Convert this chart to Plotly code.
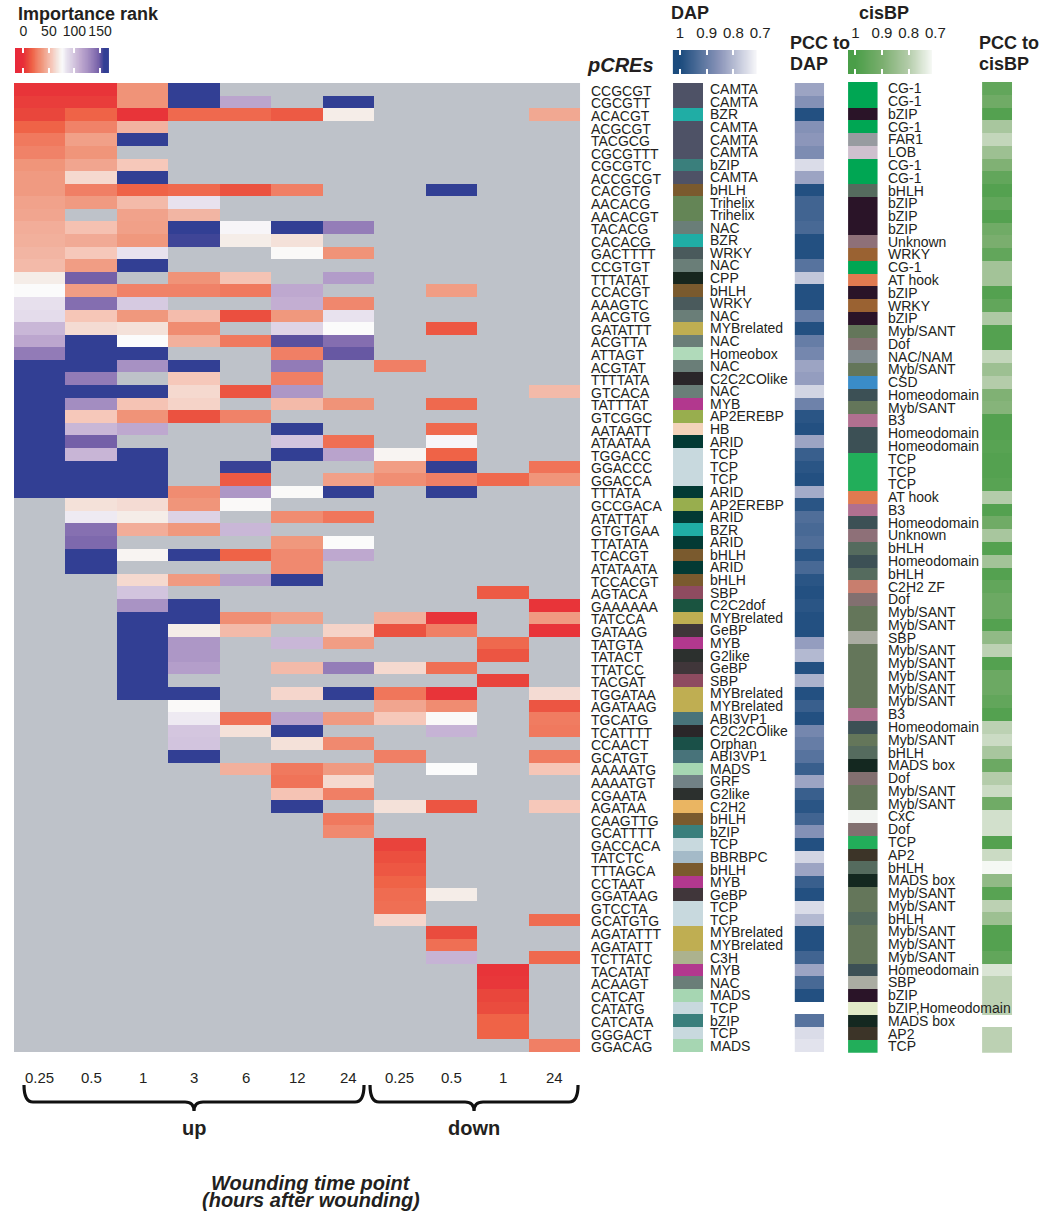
import numpy as np
import plotly.graph_objects as go

W, H = 1048, 1216
FONT = "Liberation Sans, Arial, Helvetica, sans-serif"
INK = "#231F20"
XK = 1040 / 1032  # the photographed page comes out ~0.8 % narrower; compensate


def px(x):
    return x * XK / W


def py(y):
    return 1 - y / H


# ---------------- data ----------------
time_points = ["0.25", "0.5", "1", "3", "6", "12", "24", "0.25", "0.5", "1", "24"]
direction = ["up"] * 7 + ["down"] * 4

pcres = ["CCGCGT", "CGCGTT", "ACACGT", "ACGCGT", "TACGCG", "CGCGTTT", "CGCGTC", "ACCGCGT",
         "CACGTG", "AACACG", "AACACGT", "TACACG", "CACACG", "GACTTTT", "CCGTGT", "TTTATAT",
         "CCACGT", "AAAGTC", "AACGTG", "GATATTT", "ACGTTA", "ATTAGT", "ACGTAT", "TTTTATA",
         "GTCACA", "TATTTAT", "GTCGGC", "AATAATT", "ATAATAA", "TGGACC", "GGACCC", "GGACCA",
         "TTTATA", "GCCGACA", "ATATTAT", "GTGTGAA", "TTATATA", "TCACGT", "ATATAATA", "TCCACGT",
         "AGTACA", "GAAAAAA", "TATCCA", "GATAAG", "TATGTA", "TATACT", "TTATCC", "TACGAT",
         "TGGATAA", "AGATAAG", "TGCATG", "TCATTTT", "CCAACT", "GCATGT", "AAAAATG", "AAAATGT",
         "CGAATA", "AGATAA", "CAAGTTG", "GCATTTT", "GACCACA", "TATCTC", "TTTAGCA", "CCTAAT",
         "GGATAAG", "GTCCTA", "GCATGTG", "AGATATTT", "AGATATT", "TCTTATC", "TACATAT", "ACAAGT",
         "CATCAT", "CATATG", "CATCATA", "GGGACT", "GGACAG"]

N = None
D = 165  # ranks beyond the top ones (dark blue)
rank = [
    [2, 2, 35, D, N, N, N, N, N, N, N],
    [5, 5, 35, D, 115, N, D, N, N, N, N],
    [8, 18, 2, 20, 20, 15, 70, N, N, N, 43],
    [18, 28, 47, N, N, N, N, N, N, N, N],
    [25, 40, D, N, N, N, N, N, N, N, N],
    [28, 36, N, N, N, N, N, N, N, N, N],
    [36, 42, 56, N, N, N, N, N, N, N, N],
    [38, 62, D, N, N, N, N, N, N, N, N],
    [38, 27, 18, 20, 12, 27, N, N, D, N, N],
    [41, 38, 50, 85, N, N, N, N, N, N, N],
    [42, N, 41, 48, N, N, N, N, N, N, N],
    [45, 53, 40, D, 78, D, 135, N, N, N, N],
    [46, 44, 37, 156, 70, 65, N, N, N, N, N],
    [48, 56, 85, N, N, 75, 35, N, N, N, N],
    [50, 39, D, N, N, N, N, N, N, N, N],
    [70, 148, N, 35, 54, N, 120, N, N, N, N],
    [76, 39, 28, 28, 25, 113, N, N, 39, N, N],
    [86, 142, 97, N, N, 110, 30, N, N, N, N],
    [88, 55, 37, 51, 11, 37, 85, N, N, N, N],
    [106, 63, 65, 32, N, 92, 76, N, 14, N, N],
    [114, D, 76, 46, 25, 152, 142, N, N, N, N],
    [136, D, D, N, N, 27, 150, N, N, N, N],
    [D, D, 126, D, N, 136, N, 27, N, N, N],
    [D, 136, N, 56, N, 27, N, N, N, N, N],
    [D, D, D, 62, 13, 123, N, N, N, N, 50],
    [D, 128, 54, 60, N, 50, 35, N, 20, N, N],
    [D, 56, 35, 12, 28, N, N, N, N, N, N],
    [D, 106, 113, N, N, D, N, N, 20, N, N],
    [D, 148, N, N, N, 100, 22, N, 78, N, N],
    [D, 107, D, N, N, D, 116, 73, 18, N, N],
    [D, D, D, N, 157, N, N, 39, D, N, 23],
    [D, D, D, N, 15, N, 40, 33, 27, 20, 36],
    [D, D, D, 32, 123, 75, D, N, D, N, N],
    [N, 65, 63, 36, 75, N, N, N, N, N, N],
    [N, 82, 70, 93, N, 32, 24, N, N, N, N],
    [N, 141, 45, 37, 106, N, N, N, N, N, N],
    [N, 144, N, N, N, 37, 76, N, N, N, N],
    [N, D, 73, D, 18, 31, 113, N, N, N, N],
    [N, D, N, N, N, 31, N, N, N, N, N],
    [N, N, 62, 38, 118, D, N, N, N, N, N],
    [N, N, 100, N, N, N, N, N, N, 15, N],
    [N, N, 125, D, N, N, N, N, N, N, 2],
    [N, N, D, D, 33, 40, N, 46, 2, N, 38],
    [N, N, D, 70, 50, N, 60, 12, 27, N, 2],
    [N, N, D, 123, N, 106, 39, N, N, 20, N],
    [N, N, D, 123, N, N, N, N, N, 13, N],
    [N, N, D, 119, N, 50, 135, 62, 22, N, N],
    [N, N, D, N, N, N, N, N, N, 7, N],
    [N, N, D, D, N, 61, D, 24, 2, N, 63],
    [N, N, N, 75, N, N, N, 42, 32, N, 13],
    [N, N, N, 82, 22, 116, 38, 56, 75, N, 26],
    [N, N, N, 99, 65, D, N, N, 108, N, 25],
    [N, N, N, 100, N, 65, 31, N, N, N, N],
    [N, N, N, D, N, N, N, 27, N, N, 26],
    [N, N, N, N, 46, 25, 38, N, 76, N, 55],
    [N, N, N, N, N, 23, 62, N, N, N, N],
    [N, N, N, N, N, 54, 27, N, N, N, N],
    [N, N, N, N, N, D, N, 65, 13, N, 56],
    [N, N, N, N, N, N, 25, N, N, N, N],
    [N, N, N, N, N, N, 31, N, N, N, N],
    [N, N, N, N, N, N, N, 7, N, N, N],
    [N, N, N, N, N, N, N, 11, N, N, N],
    [N, N, N, N, N, N, N, 14, N, N, N],
    [N, N, N, N, N, N, N, 18, N, N, N],
    [N, N, N, N, N, N, N, 21, 70, N, N],
    [N, N, N, N, N, N, N, 22, N, N, N],
    [N, N, N, N, N, N, N, 61, N, N, 21],
    [N, N, N, N, N, N, N, N, 10, N, N],
    [N, N, N, N, N, N, N, N, 22, N, N],
    [N, N, N, N, N, N, N, N, 108, N, 20],
    [N, N, N, N, N, N, N, N, N, 2, N],
    [N, N, N, N, N, N, N, N, N, 3, N],
    [N, N, N, N, N, N, N, N, N, 8, N],
    [N, N, N, N, N, N, N, N, N, 10, N],
    [N, N, N, N, N, N, N, N, N, 18, N],
    [N, N, N, N, N, N, N, N, N, 18, N],
    [N, N, N, N, N, N, N, N, N, N, 27],
]

dap_family = ["CAMTA", "CAMTA", "BZR", "CAMTA", "CAMTA", "CAMTA", "bZIP", "CAMTA", "bHLH",
              "Trihelix", "Trihelix", "NAC", "BZR", "WRKY", "NAC", "CPP", "bHLH", "WRKY", "NAC",
              "MYBrelated", "NAC", "Homeobox", "NAC", "C2C2COlike", "NAC", "MYB", "AP2EREBP", "HB",
              "ARID", "TCP", "TCP", "TCP", "ARID", "AP2EREBP", "ARID", "BZR", "ARID", "bHLH", "ARID",
              "bHLH", "SBP", "C2C2dof", "MYBrelated", "GeBP", "MYB", "G2like", "GeBP", "SBP",
              "MYBrelated", "MYBrelated", "ABI3VP1", "C2C2COlike", "Orphan", "ABI3VP1", "MADS",
              "GRF", "G2like", "C2H2", "bHLH", "bZIP", "TCP", "BBRBPC", "bHLH", "MYB", "GeBP",
              "TCP", "TCP", "MYBrelated", "MYBrelated", "C3H", "MYB", "NAC", "MADS", "TCP", "bZIP",
              "TCP", "MADS"]

dap_pcc = [0.83, 0.86, 0.99, 0.86, 0.85, 0.87, 0.75, 0.83, 0.99, 0.95, 0.95, 0.94, 0.99, 0.99,
           0.92, 0.78, 0.99, 0.99, 0.90, 0.99, 0.90, 0.88, 0.83, 0.84, 0.76, 0.89, 0.98, 0.99,
           0.83, 0.96, 0.98, 0.99, 0.82, 0.98, 0.93, 0.94, 0.93, 0.98, 0.94, 0.98, 0.99, 0.98,
           0.99, 0.99, 0.84, 0.80, 0.99, 0.81, 0.99, 0.96, 0.99, 0.88, 0.90, 0.92, 0.96, 0.83,
           0.96, 0.98, 0.95, 0.86, 0.99, 0.76, 0.83, 0.96, 0.99, 0.75, 0.80, 0.99, 0.99, 0.95,
           0.83, 0.94, 0.99, None, 0.92, 0.75, 0.74]

cisbp_family = ["CG-1", "CG-1", "bZIP", "CG-1", "FAR1", "LOB", "CG-1", "CG-1", "bHLH", "bZIP",
                "bZIP", "bZIP", "Unknown", "WRKY", "CG-1", "AT hook", "bZIP", "WRKY", "bZIP",
                "Myb/SANT", "Dof", "NAC/NAM", "Myb/SANT", "CSD", "Homeodomain", "Myb/SANT", "B3",
                "Homeodomain", "Homeodomain", "TCP", "TCP", "TCP", "AT hook", "B3", "Homeodomain",
                "Unknown", "bHLH", "Homeodomain", "bHLH", "C2H2 ZF", "Dof", "Myb/SANT", "Myb/SANT",
                "SBP", "Myb/SANT", "Myb/SANT", "Myb/SANT", "Myb/SANT", "Myb/SANT", "B3",
                "Homeodomain", "Myb/SANT", "bHLH", "MADS box", "Dof", "Myb/SANT", "Myb/SANT", "CxC",
                "Dof", "TCP", "AP2", "bHLH", "MADS box", "Myb/SANT", "Myb/SANT", "bHLH", "Myb/SANT",
                "Myb/SANT", "Myb/SANT", "Homeodomain", "SBP", "bZIP", "bZIP,Homeodomain",
                "MADS box", "AP2", "TCP"]

cisbp_pcc = [0.95, 0.92, 0.98, 0.82, 0.78, 0.84, 0.89, 0.95, 0.98, 0.95, 0.98, 0.92, 0.90, 0.95,
             0.83, 0.83, 0.98, 0.95, 0.81, 0.98, 0.98, 0.78, 0.84, 0.80, 0.89, 0.88, 0.98, 0.98,
             0.97, 0.98, 0.98, 0.97, 0.80, 0.98, 0.92, 0.82, 0.98, 0.83, 0.98, 0.95, 0.93, 0.93,
             0.98, 0.86, 0.79, 0.98, 0.93, 0.93, 0.95, 0.98, 0.79, 0.77, 0.82, 0.93, 0.80, 0.77,
             0.92, 0.76, 0.76, 0.98, 0.77, 0.70, 0.86, 0.97, 0.79, 0.84, 0.98, 0.98, 0.95, 0.75,
             0.79, 0.79, 0.79, None, 0.79, 0.79]

dap_colors = {
    "CAMTA": "#4E5266", "BZR": "#20ADA5", "bZIP": "#3A7F7C", "bHLH": "#7A5A2E",
    "Trihelix": "#648556", "NAC": "#6A7E78", "WRKY": "#4A5A5C", "CPP": "#17261E",
    "MYBrelated": "#BFAE52", "Homeobox": "#B0DABA", "C2C2COlike": "#2A2629", "MYB": "#B2388E",
    "AP2EREBP": "#98AE4E", "HB": "#F3D3BA", "ARID": "#033A34", "TCP": "#C8D9DE",
    "SBP": "#8E4B60", "C2C2dof": "#1A5440", "GeBP": "#40363A", "G2like": "#2C302E",
    "ABI3VP1": "#48737A", "Orphan": "#1A5048", "MADS": "#A6D6B2", "GRF": "#728286",
    "C2H2": "#EAB562", "BBRBPC": "#A4BAC8", "C3H": "#ACB28E",
}
cisbp_colors = {
    "CG-1": "#00A653", "bZIP": "#2A1428", "FAR1": "#979BA0", "LOB": "#CEC0CE",
    "bHLH": "#556B5E", "Unknown": "#8E7078", "WRKY": "#9A6232", "AT hook": "#E07A50",
    "Myb/SANT": "#64765A", "Dof": "#827070", "NAC/NAM": "#808A8E", "CSD": "#3A8CC8",
    "Homeodomain": "#3C5055", "B3": "#B07090", "TCP": "#22AE5A", "C2H2 ZF": "#C87E6E",
    "SBP": "#AAACA2", "MADS box": "#142820", "CxC": "#F2F4F2", "AP2": "#3C3428",
    "bZIP,Homeodomain": "#E2EAC8",
}

rank_ticks = [0, 50, 100, 150]
pcc_ticks = [1, 0.9, 0.8, 0.7]

# ---------------- colour scales ----------------
imp_stops = [(-16, "#E8283A"), (0, "#E82E38"), (8, "#E9463C"), (18, "#EF6347"), (28, "#F08268"),
             (36, "#F0957A"), (48, "#F2B5A3"), (56, "#F6C8BA"), (64, "#F4DED6"), (70, "#F5EDE8"),
             (76, "#FBFBFB"), (85, "#E8E2EE"), (98, "#D5C8E0"), (112, "#C0AAD0"), (125, "#A993C4"),
             (138, "#8E77B5"), (148, "#7460A8"), (152, "#5A509E"), (158, "#323F94"),
             (168, "#323F94")]
dap_stops = [(0.69, "#F7F7F9"), (0.715, "#F5F5F8"), (0.85, "#8C96BA"), (1.0, "#1B4B7D"),
             (1.03, "#1B4B7D")]
cis_stops = [(0.69, "#F6F8F5"), (0.715, "#F4F7F3"), (0.8, "#B4CCAA"), (0.9, "#7AAE6E"),
             (1.0, "#4A9E48"), (1.03, "#4A9E48")]


def scale(stops):
    lo, hi = stops[0][0], stops[-1][0]
    return [[(v - lo) / (hi - lo), c] for v, c in stops], lo, hi


def discrete(names, cmap):
    uniq = list(dict.fromkeys(names))
    n = len(uniq)
    cs = []
    for k, nm in enumerate(uniq):
        cs.append([k / n, cmap[nm]])
        cs.append([(k + 1) / n, cmap[nm]])
    idx = [[uniq.index(nm)] for nm in names]
    return idx, cs, n


imp_cs, imp_lo, imp_hi = scale(imp_stops)
dap_cs, dap_lo, dap_hi = scale(dap_stops)
cis_cs, cis_lo, cis_hi = scale(cis_stops)

nrow = len(pcres)
ncis = len(cisbp_family)
ncol = len(time_points)

fig = go.Figure()

# main heatmap
fig.add_trace(go.Heatmap(z=rank, x=list(range(ncol)), y=list(range(nrow)), colorscale=imp_cs,
                         zmin=imp_lo, zmax=imp_hi, showscale=False, xaxis="x", yaxis="y",
                         hoverongaps=False))
# DAP family column
dz, dcs, dn = discrete(dap_family, dap_colors)
fig.add_trace(go.Heatmap(z=dz, x=[0], y=list(range(nrow)), colorscale=dcs, zmin=-0.5,
                         zmax=dn - 0.5, showscale=False, xaxis="x2", yaxis="y",
                         text=[[f] for f in dap_family], hoverinfo="text"))
# PCC to DAP
fig.add_trace(go.Heatmap(z=[[v] for v in dap_pcc], x=[0], y=list(range(nrow)), colorscale=dap_cs,
                         zmin=dap_lo, zmax=dap_hi, showscale=False, xaxis="x3", yaxis="y",
                         hoverongaps=False))
# cisBP family column
cz, ccs, cn = discrete(cisbp_family, cisbp_colors)
fig.add_trace(go.Heatmap(z=cz, x=[0], y=list(range(ncis)), colorscale=ccs, zmin=-0.5,
                         zmax=cn - 0.5, showscale=False, xaxis="x4", yaxis="y2",
                         text=[[f] for f in cisbp_family], hoverinfo="text"))
# PCC to cisBP
fig.add_trace(go.Heatmap(z=[[v] for v in cisbp_pcc], x=[0], y=list(range(ncis)), colorscale=cis_cs,
                         zmin=cis_lo, zmax=cis_hi, showscale=False, xaxis="x5", yaxis="y2",
                         hoverongaps=False))

# legend gradients
g_imp = np.linspace(-16, 167.5, 220)
fig.add_trace(go.Heatmap(z=[g_imp], x=g_imp, y=[0], colorscale=imp_cs, zmin=imp_lo, zmax=imp_hi,
                         showscale=False, xaxis="x6", yaxis="y3", hoverinfo="skip"))
g_pcc = np.linspace(1.027, 0.714, 160)
fig.add_trace(go.Heatmap(z=[g_pcc], x=g_pcc, y=[0], colorscale=dap_cs, zmin=dap_lo, zmax=dap_hi,
                         showscale=False, xaxis="x7", yaxis="y4", hoverinfo="skip"))
fig.add_trace(go.Heatmap(z=[g_pcc], x=g_pcc, y=[0], colorscale=cis_cs, zmin=cis_lo, zmax=cis_hi,
                         showscale=False, xaxis="x8", yaxis="y5", hoverinfo="skip"))

hidden = dict(visible=False, fixedrange=True, showgrid=False, zeroline=False)
main_ydom = [py(1052), py(83)]
cis_ydom = [py(1052.7), py(82)]


def legend_x(dom, rng, vals, texts, anchor, size=15):
    return dict(domain=dom, range=rng, side="top", tickmode="array", tickvals=vals,
                ticktext=texts, ticks="inside", ticklen=5, tickwidth=2, tickcolor="white",
                mirror="ticks", showline=False, showgrid=False, zeroline=False, tickangle=0,
                tickfont=dict(family=FONT, size=size, color=INK), ticklabelstandoff=8,
                fixedrange=True, anchor=anchor)


fig.update_layout(
    width=W, height=H, autosize=False, margin=dict(l=0, r=0, t=0, b=0, pad=0),
    paper_bgcolor="white", plot_bgcolor="white", showlegend=False,
    font=dict(family=FONT, color=INK),
    xaxis=dict(domain=[px(14), px(580)], range=[-0.5, ncol - 0.5], anchor="y", **hidden),
    yaxis=dict(domain=main_ydom, range=[nrow - 0.5, -0.5], anchor="x", **hidden),
    xaxis2=dict(domain=[px(673), px(703)], range=[-0.5, 0.5], anchor="y", **hidden),
    xaxis3=dict(domain=[px(794.5), px(824)], range=[-0.5, 0.5], anchor="y", **hidden),
    xaxis4=dict(domain=[px(848), px(877.5)], range=[-0.5, 0.5], anchor="y2", **hidden),
    yaxis2=dict(domain=cis_ydom, range=[ncis - 0.5, -0.5], anchor="x4", **hidden),
    xaxis5=dict(domain=[px(982), px(1012)], range=[-0.5, 0.5], anchor="y2", **hidden),
    xaxis6=legend_x([px(15), px(109)], [-16.3, 167.6], rank_ticks,
                    [str(t) for t in rank_ticks], "y3", size=14),
    yaxis3=dict(domain=[py(73), py(48)], range=[-0.5, 0.5], anchor="x6", **hidden),
    xaxis7=legend_x([px(672.7), px(762.7)], [1.0273, 0.690], pcc_ticks,
                    [f"{t:g}" for t in pcc_ticks], "y4"),
    yaxis4=dict(domain=[py(74), py(50)], range=[-0.5, 0.5], anchor="x7", **hidden),
    xaxis8=legend_x([px(848), px(938)], [1.0273, 0.690], pcc_ticks,
                    [f"{t:g}" for t in pcc_ticks], "y5"),
    yaxis5=dict(domain=[py(74), py(50)], range=[-0.5, 0.5], anchor="x8", **hidden),
)

# gray background for the missing cells
fig.add_shape(type="rect", xref="x domain", yref="y domain", x0=0, x1=1, y0=0, y1=1,
              fillcolor="#BEC2C9", line=dict(width=0), layer="below")

anns = []


def txt(text, x, y, size, xref="paper", yref="paper", xanchor="left", yanchor="middle"):
    anns.append(dict(text=text, x=x, y=y, xref=xref, yref=yref, xanchor=xanchor,
                     yanchor=yanchor, showarrow=False, borderpad=0,
                     font=dict(family=FONT, size=size, color=INK)))


for i, name in enumerate(pcres):
    txt(name, px(590), i + 0.12, 14, yref="y")
for i, name in enumerate(dap_family):
    txt(name, px(709), i, 14, yref="y")
for i, name in enumerate(cisbp_family):
    txt(name, px(887), i, 14, yref="y2")

for j, lab in enumerate(time_points):
    txt(lab, j, py(1077), 15, xref="x", xanchor="center")

# headers
txt("<b>Importance rank</b>", px(16.5), py(14), 18)
txt("<b>DAP</b>", px(670), py(13), 18)
txt("<b>cisBP</b>", px(858), py(13), 18)
txt("<b>PCC to</b>", px(789), py(43), 18)
txt("<b>DAP</b>", px(789), py(64), 18)
txt("<b>PCC to</b>", px(978), py(43), 18)
txt("<b>cisBP</b>", px(978), py(64), 18)
txt("<b><i>pCREs</i></b>", px(586), py(65), 20)


# braces for the up / down groups
def brace(x0, x1, ytop=1085, ymid=1102, ytip=1111, r=9):
    xm = (x0 + x1) / 2
    pts = lambda x, y: f"{px(x):.5f},{py(y):.5f}"
    return (f"M {pts(x0, ytop)} Q {pts(x0, ymid)} {pts(x0 + r, ymid)} "
            f"L {pts(xm - r, ymid)} Q {pts(xm, ymid)} {pts(xm, ytip)} "
            f"Q {pts(xm, ymid)} {pts(xm + r, ymid)} "
            f"L {pts(x1 - r, ymid)} Q {pts(x1, ymid)} {pts(x1, ytop)}")


groups = list(dict.fromkeys(direction))
brace_px = {"up": (24, 364), "down": (370, 578)}
for g in groups:
    x0, x1 = brace_px[g]
    fig.add_shape(type="path", xref="paper", yref="paper", path=brace(x0, x1),
                  line=dict(color="#111111", width=3.2))
    txt(f"<b>{g}</b>", px((x0 + x1) / 2), py(1128), 20, xanchor="center")

txt("<b><i>Wounding time point</i></b>", px(311), py(1183), 20, xanchor="center")
txt("<b><i>(hours after wounding)</i></b>", px(311), py(1200), 20, xanchor="center")

fig.update_layout(annotations=anns)
fig.write_html(
    "out.html",
    config={"displayModeBar": False, "responsive": False},
    post_script=("document.documentElement.style.overflow='hidden';"
                 "document.body.style.margin='0';document.body.style.overflow='hidden';"),
)
